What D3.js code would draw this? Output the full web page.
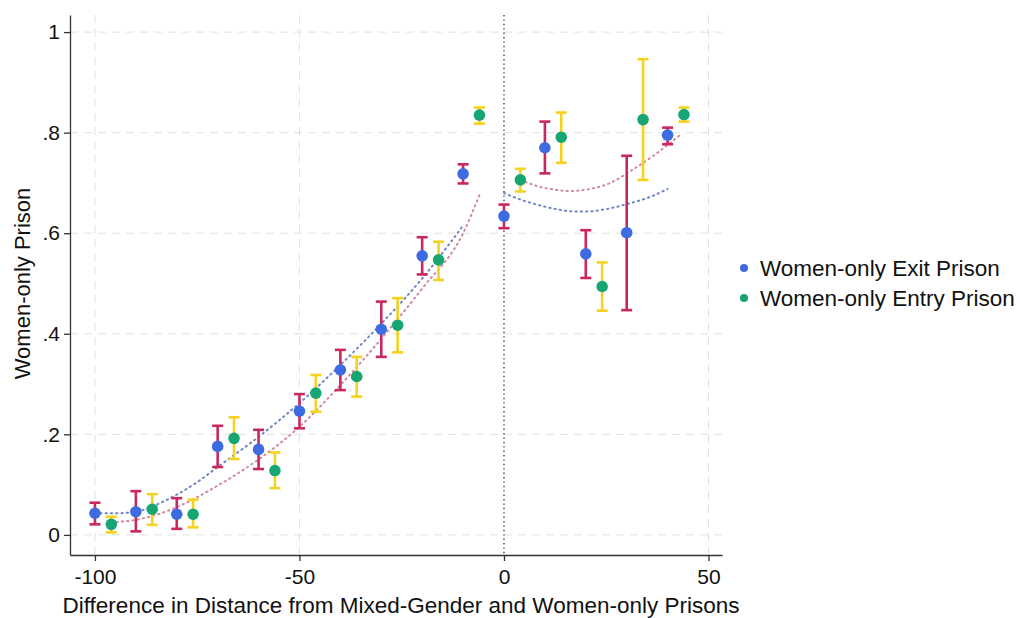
<!DOCTYPE html>
<html>
<head>
<meta charset="utf-8">
<script src="https://cdn.jsdelivr.net/npm/d3@7/dist/d3.min.js"></script>
<style>
  html, body { margin: 0; padding: 0; background: #ffffff; }
  svg { display: block; font-family: "Liberation Sans", Arial, sans-serif; }
</style>
</head>
<body>
<svg id="chart" width="1023" height="618"></svg>
<script>
// Binned means with 95% intervals, by distance difference (km)
const exitX    = [-100, -90, -80, -70, -60, -50, -40, -30, -20, -10, 0, 10, 20, 30, 40];
const exitMean = [0.043, 0.046, 0.041, 0.176, 0.170, 0.246, 0.328, 0.409, 0.555, 0.718, 0.634, 0.770, 0.559, 0.601, 0.795];
const exitLo   = [0.021, 0.007, 0.012, 0.135, 0.131, 0.212, 0.288, 0.354, 0.518, 0.699, 0.610, 0.719, 0.511, 0.447, 0.777];
const exitHi   = [0.064, 0.087, 0.073, 0.217, 0.209, 0.280, 0.368, 0.464, 0.592, 0.737, 0.657, 0.822, 0.606, 0.754, 0.810];

const entryX    = [-96, -86, -76, -66, -56, -46, -36, -26, -16, -6, 4, 14, 24, 34, 44];
const entryMean = [0.021, 0.051, 0.041, 0.192, 0.128, 0.282, 0.315, 0.417, 0.547, 0.835, 0.706, 0.791, 0.494, 0.826, 0.836];
const entryLo   = [0.005, 0.020, 0.015, 0.151, 0.093, 0.245, 0.275, 0.363, 0.507, 0.818, 0.683, 0.740, 0.446, 0.706, 0.822];
const entryHi   = [0.036, 0.081, 0.070, 0.234, 0.164, 0.318, 0.354, 0.471, 0.583, 0.850, 0.728, 0.840, 0.542, 0.946, 0.850];

// Fitted curves on each side of the cutoff
const exitFitLeftX  = [-100, -95, -90, -85, -80, -75, -70, -60, -50, -40, -30, -20, -10];
const exitFitLeftY  = [0.043, 0.043, 0.046, 0.060, 0.080, 0.105, 0.135, 0.195, 0.262, 0.338, 0.420, 0.510, 0.615];
const entryFitLeftX = [-96, -90, -85, -80, -75, -70, -60, -50, -40, -30, -20, -10, -6];
const entryFitLeftY = [0.025, 0.030, 0.040, 0.055, 0.075, 0.098, 0.150, 0.215, 0.298, 0.390, 0.490, 0.600, 0.676];
const exitFitRightX  = [0, 4, 8, 12, 16, 20, 25, 31, 36, 40];
const exitFitRightY  = [0.680, 0.667, 0.657, 0.649, 0.644, 0.643, 0.648, 0.660, 0.673, 0.688];
const entryFitRightX = [4, 8, 12, 16, 21, 26, 31, 37, 43];
const entryFitRightY = [0.706, 0.694, 0.687, 0.684, 0.688, 0.700, 0.724, 0.757, 0.795];

const yTicks = [0, 0.2, 0.4, 0.6, 0.8, 1];
const yTickLabels = ["0", ".2", ".4", ".6", ".8", "1"];
const xTicks = [-100, -50, 0, 50];
const xTickLabels = ["-100", "-50", "0", "50"];
const legendLabels = ["Women-only Exit Prison", "Women-only Entry Prison"];

const colors = {
  exitDot: "#3d6be0",
  exitBar: "#c8285e",
  entryDot: "#17a672",
  entryBar: "#f4d21f",
  exitFit: "#7186c4",
  entryFit: "#d08a9a",
  grid: "#e0e0e0",
  axis: "#333333"
};

const svg = d3.select("#chart");
const plot = { left: 70, right: 722, top: 15, bottom: 555 };

const x = d3.scaleLinear().domain([-106.1, 53.3]).range([plot.left, plot.right]);
const y = d3.scaleLinear().domain([-0.04, 1.034]).range([plot.bottom, plot.top]);

// Gridlines
const grid = svg.append("g");
grid.selectAll("line.h").data(yTicks).join("line")
  .attr("x1", plot.left).attr("x2", plot.right)
  .attr("y1", d => y(d)).attr("y2", d => y(d))
  .attr("stroke", colors.grid).attr("stroke-width", 1).attr("stroke-dasharray", "8,6");
grid.selectAll("line.v").data(xTicks.filter(d => d !== 0)).join("line")
  .attr("x1", d => x(d)).attr("x2", d => x(d))
  .attr("y1", plot.top).attr("y2", plot.bottom)
  .attr("stroke", colors.grid).attr("stroke-width", 1).attr("stroke-dasharray", "8,6");

// Cutoff line
svg.append("line")
  .attr("x1", x(0)).attr("x2", x(0)).attr("y1", plot.top).attr("y2", plot.bottom)
  .attr("stroke", "#444").attr("stroke-width", 1.4).attr("stroke-dasharray", "1.4,3");

// Fitted curves
const line = d3.line().x(d => x(d[0])).y(d => y(d[1])).curve(d3.curveMonotoneX);
const fits = [
  [exitFitLeftX, exitFitLeftY, colors.exitFit],
  [entryFitLeftX, entryFitLeftY, colors.entryFit],
  [exitFitRightX, exitFitRightY, colors.exitFit],
  [entryFitRightX, entryFitRightY, colors.entryFit]
];
fits.forEach(([xs, ys, c]) => {
  svg.append("path")
    .datum(xs.map((v, i) => [v, ys[i]]))
    .attr("d", line)
    .attr("fill", "none").attr("stroke", c).attr("stroke-width", 2)
    .attr("stroke-dasharray", "1.3,4").attr("stroke-linecap", "round");
});

// Error bars and points
function series(xs, mean, lo, hi, barColor, dotColor) {
  const g = svg.append("g");
  const d = xs.map((v, i) => ({ x: v, m: mean[i], lo: lo[i], hi: hi[i] }));
  g.selectAll("line.stem").data(d).join("line")
    .attr("x1", p => x(p.x)).attr("x2", p => x(p.x))
    .attr("y1", p => y(p.lo)).attr("y2", p => y(p.hi))
    .attr("stroke", barColor).attr("stroke-width", 2.6);
  ["lo", "hi"].forEach(k => {
    g.selectAll("line.cap" + k).data(d).join("line")
      .attr("x1", p => x(p.x) - 5.5).attr("x2", p => x(p.x) + 5.5)
      .attr("y1", p => y(p[k])).attr("y2", p => y(p[k]))
      .attr("stroke", barColor).attr("stroke-width", 2.6);
  });
  g.selectAll("circle").data(d).join("circle")
    .attr("cx", p => x(p.x)).attr("cy", p => y(p.m)).attr("r", 5.8)
    .attr("fill", dotColor);
}
series(exitX, exitMean, exitLo, exitHi, colors.exitBar, colors.exitDot);
series(entryX, entryMean, entryLo, entryHi, colors.entryBar, colors.entryDot);

// Axes
const yAxis = d3.axisLeft(y).tickValues(yTicks).tickFormat((d, i) => yTickLabels[i]).tickSize(6).tickSizeOuter(0).tickPadding(4);
const gy = svg.append("g").attr("transform", `translate(${plot.left},0)`).call(yAxis);
const xAxis = d3.axisBottom(x).tickValues(xTicks).tickFormat((d, i) => xTickLabels[i]).tickSize(6).tickSizeOuter(0).tickPadding(5);
const gx = svg.append("g").attr("transform", `translate(0,${plot.bottom})`).call(xAxis);
[gx, gy].forEach(g => {
  g.select(".domain").attr("stroke", colors.axis).attr("stroke-width", 1.3);
  g.selectAll(".tick line").attr("stroke", colors.axis).attr("stroke-width", 1.3);
  g.selectAll(".tick text").attr("fill", "#111").style("font-size", "21px")
    .style("font-family", '"Liberation Sans", Arial, sans-serif');
});
gx.selectAll(".tick text").attr("dy", "0.85em");

// Axis titles
svg.append("text")
  .attr("x", 401).attr("y", 613)
  .attr("text-anchor", "middle").attr("fill", "#111")
  .style("font-size", "22.5px")
  .text("Difference in Distance from Mixed-Gender and Women-only Prisons");
svg.append("text")
  .attr("transform", `translate(30,${y(0.5)}) rotate(-90)`)
  .attr("text-anchor", "middle").attr("fill", "#111")
  .style("font-size", "22px")
  .text("Women-only Prison");

// Legend
const legend = svg.append("g");
const legendColors = [colors.exitDot, colors.entryDot];
legendLabels.forEach((lab, i) => {
  const ly = 268 + i * 30;
  legend.append("circle").attr("cx", 744).attr("cy", ly).attr("r", 4).attr("fill", legendColors[i]);
  legend.append("text").attr("x", 760).attr("y", ly + 8).attr("fill", "#111")
    .style("font-size", "22.5px").text(lab);
});
</script>
</body>
</html>
